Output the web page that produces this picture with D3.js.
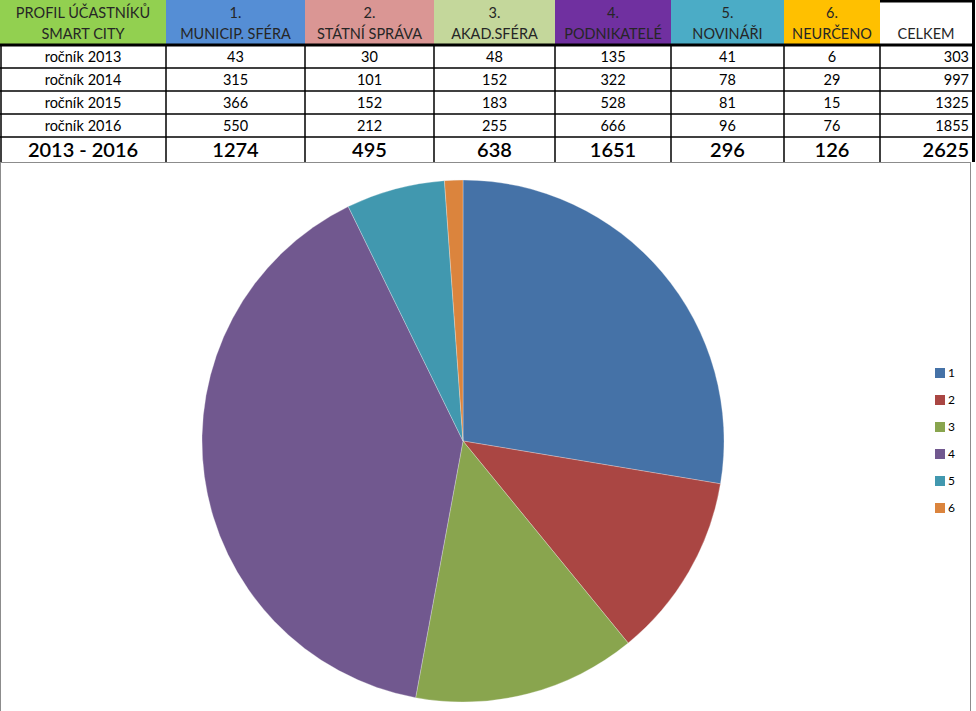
<!DOCTYPE html>
<html><head><meta charset="utf-8">
<script src="https://cdn.jsdelivr.net/npm/d3@7"></script>
<style>body{margin:0;background:#fff}svg{display:block}</style>
</head><body><svg id="c" width="976" height="711"></svg>
<script>
const headerTop = ["PROFIL ÚČASTNÍKŮ","1.","2.","3.","4.","5.","6.",""];
const headerBottom = ["SMART CITY","MUNICIP. SFÉRA","STÁTNÍ SPRÁVA","AKAD.SFÉRA","PODNIKATELÉ","NOVINÁŘI","NEURČENO","CELKEM"];
const rowLabels = ["ročník 2013","ročník 2014","ročník 2015","ročník 2016"];
const row2013 = [43,30,48,135,41,6,303];
const row2014 = [315,101,152,322,78,29,997];
const row2015 = [366,152,183,528,81,15,1325];
const row2016 = [550,212,255,666,96,76,1855];
const totalLabel = "2013 - 2016";
const totals = [1274,495,638,1651,296,126,2625];
const legendLabels = ["1","2","3","4","5","6"];
// the pie in the picture shows the 2015 row
const pieValues = row2015.slice(0,6);

const headerColors = ["#92d050","#558ed5","#da9694","#c4d79b","#7030a0","#4bacc6","#ffc000","#ffffff"];
const pieColors = ["#4572a7","#aa4643","#89a54e","#71588f","#4198af","#db843d"];
const colEdges = [0,166,305,434,555,671,784,880,972];

const svg = d3.select("#c");
const font = "Lato, 'Open Sans', sans-serif";
const rows = [row2013,row2014,row2015,row2016];

// header
const hdr = svg.append("g");
headerColors.forEach((c,i)=>{
  hdr.append("rect").attr("x",colEdges[i]).attr("y",0).attr("width",colEdges[i+1]-colEdges[i]).attr("height",45).attr("fill",c);
  const cx=(colEdges[i]+colEdges[i+1])/2;
  hdr.append("text").attr("x",cx).attr("y",18).attr("text-anchor","middle").attr("font-family",font).attr("font-size",14.5).attr("fill","#262626").text(headerTop[i]);
  hdr.append("text").attr("x",cx).attr("y",39).attr("text-anchor","middle").attr("font-family",font).attr("font-size",14.5).attr("fill","#262626").text(headerBottom[i]);
});
hdr.append("line").attr("x1",880).attr("x2",975).attr("y1",1).attr("y2",1).attr("stroke","#000").attr("stroke-width",3);
hdr.append("line").attr("x1",973.5).attr("x2",973.5).attr("y1",0).attr("y2",46).attr("stroke","#000").attr("stroke-width",3);
hdr.append("line").attr("x1",0).attr("x2",975).attr("y1",45).attr("y2",45).attr("stroke","#000").attr("stroke-width",3);

// body rows
const rowY = [45,68,91,114,137,162];
const body = svg.append("g");
rows.forEach((r,ri)=>{
  const y0=rowY[ri], y1=rowY[ri+1], cy=(y0+y1)/2+5;
  body.append("text").attr("x",(colEdges[0]+colEdges[1])/2).attr("y",cy).attr("text-anchor","middle").attr("font-family",font).attr("font-size",14.5).attr("fill","#000").text(rowLabels[ri]);
  r.forEach((v,ci)=>{
    const i=ci+1;
    const last = i===7;
    body.append("text").attr("x", last ? colEdges[i+1]-3 : (colEdges[i]+colEdges[i+1])/2).attr("y",cy)
      .attr("text-anchor", last?"end":"middle").attr("font-family",font).attr("font-size",14.5).attr("fill","#000").text(v);
  });
});
{
  const cy=(137+162)/2+7;
  body.append("text").attr("x",(colEdges[0]+colEdges[1])/2).attr("y",cy).attr("text-anchor","middle").attr("font-family",font).attr("font-size",20).attr("font-weight","600").attr("fill","#000").text(totalLabel);
  totals.forEach((v,ci)=>{
    const i=ci+1; const last=i===7;
    body.append("text").attr("x", last ? colEdges[i+1]-3 : (colEdges[i]+colEdges[i+1])/2).attr("y",cy)
      .attr("text-anchor", last?"end":"middle").attr("font-family",font).attr("font-size",20).attr("font-weight","600").attr("fill","#000").text(v);
  });
}
[68,91,114,137].forEach(y=>body.append("line").attr("x1",0).attr("x2",975).attr("y1",y).attr("y2",y).attr("stroke","#000").attr("stroke-width",1.5));
colEdges.slice(1,8).forEach(x=>body.append("line").attr("x1",x).attr("x2",x).attr("y1",45).attr("y2",162).attr("stroke","#000").attr("stroke-width",1.5));
body.append("line").attr("x1",1).attr("x2",1).attr("y1",45).attr("y2",162).attr("stroke","#000").attr("stroke-width",1.5);
body.append("line").attr("x1",973.5).attr("x2",973.5).attr("y1",45).attr("y2",162).attr("stroke","#000").attr("stroke-width",3);

// chart area
svg.append("rect").attr("x",0.5).attr("y",162.5).attr("width",970).attr("height",560).attr("fill","#fff").attr("stroke","#8c8c8c").attr("stroke-width",1);

const pie = d3.pie().sort(null).value(d=>d);
const arc = d3.arc().innerRadius(0).outerRadius(261);
const pg = svg.append("g").attr("transform","translate(463,441)");
pg.selectAll("path").data(pie(pieValues)).join("path").attr("d",arc).attr("fill",(d,i)=>pieColors[i]).attr("stroke","#f4f4f4").attr("stroke-width",0.3);

const lg = svg.append("g");
legendLabels.forEach((l,i)=>{
  const y=373+i*27;
  lg.append("rect").attr("x",935).attr("y",y-5).attr("width",10).attr("height",10).attr("fill",pieColors[i]);
  lg.append("text").attr("x",948).attr("y",y+4).attr("font-family",font).attr("font-size",12).attr("fill","#000").text(l);
});
</script></body></html>
